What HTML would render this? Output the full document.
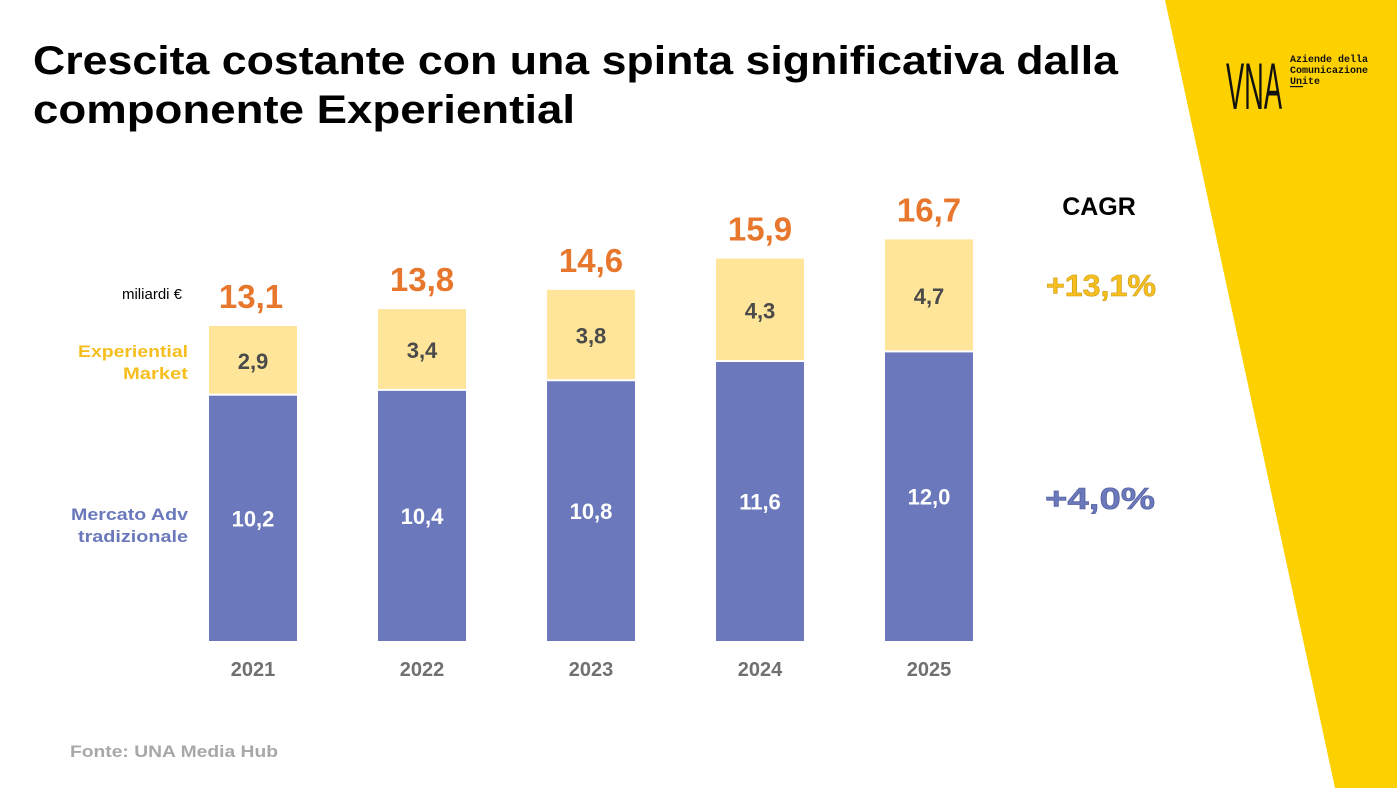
<!DOCTYPE html>
<html><head><meta charset="utf-8"><style>
html,body{margin:0;padding:0;background:#fff}
svg{display:block;font-family:"Liberation Sans",sans-serif}
</style></head><body>
<svg id="c" width="1397" height="788" viewBox="0 0 1397 788">
<polygon points="1165,0 1397,0 1397,788 1335,788" fill="#FDD000"/>
<g>
<text x="1226" y="109" font-size="66" font-family="Liberation Sans Narrow, Liberation Sans, sans-serif" fill="#111" textLength="56" lengthAdjust="spacingAndGlyphs">VNA</text>
<text x="1290" y="62" font-size="10" font-weight="bold" font-family="Liberation Mono, monospace" fill="#111">Aziende della</text>
<text x="1290" y="73" font-size="10" font-weight="bold" font-family="Liberation Mono, monospace" fill="#111">Comunicazione</text>
<text x="1290" y="84" font-size="10" font-weight="bold" font-family="Liberation Mono, monospace" fill="#111">Unite</text>
<rect x="1290" y="86" width="13" height="1.2" fill="#111"/>
</g>
<text x="33" y="74" font-size="40" font-weight="bold" fill="#000" textLength="1085" lengthAdjust="spacingAndGlyphs">Crescita costante con una spinta significativa dalla</text>
<text x="33" y="123" font-size="40" font-weight="bold" fill="#000" textLength="542" lengthAdjust="spacingAndGlyphs">componente Experiential</text>
<text x="182" y="299" font-size="15" text-anchor="end" fill="#000">miliardi €</text>
<text x="188" y="357" font-size="17" font-weight="bold" text-anchor="end" fill="#F6BE1E" textLength="110" lengthAdjust="spacingAndGlyphs">Experiential</text>
<text x="188" y="379" font-size="17" font-weight="bold" text-anchor="end" fill="#F6BE1E" textLength="65" lengthAdjust="spacingAndGlyphs">Market</text>
<text x="188" y="520" font-size="17" font-weight="bold" text-anchor="end" fill="#6B79BC" textLength="117" lengthAdjust="spacingAndGlyphs">Mercato Adv</text>
<text x="188" y="542" font-size="17" font-weight="bold" text-anchor="end" fill="#6B79BC" textLength="110" lengthAdjust="spacingAndGlyphs">tradizionale</text>
<text x="1099" y="215" font-size="25" font-weight="bold" text-anchor="middle" fill="#000">CAGR</text>
<text x="1101" y="296" font-size="31" font-weight="bold" text-anchor="middle" fill="#F6BE1E" stroke="#c99a10" stroke-width="0.6" textLength="110" lengthAdjust="spacingAndGlyphs">+13,1%</text>
<text x="1100" y="509" font-size="31" font-weight="bold" text-anchor="middle" fill="#6B79BC" stroke="#4d5a9a" stroke-width="0.6" textLength="110" lengthAdjust="spacingAndGlyphs">+4,0%</text>
<text x="70" y="757" font-size="17" font-weight="bold" fill="#A8A8A8" textLength="208" lengthAdjust="spacingAndGlyphs">Fonte: UNA Media Hub</text>
<g id="bars"></g>
</svg>
<script>
const years = ["2021","2022","2023","2024","2025"];
const advValues = [10.2,10.4,10.8,11.6,12.0];
const expValues = [2.9,3.4,3.8,4.3,4.7];
const totals = [13.1,13.8,14.6,15.9,16.7];
const NS="http://www.w3.org/2000/svg";
const base=641, k=24.05, x0=209, step=169, bw=88;
const y=v=>base-v*k;
const xs=i=>x0+i*step;
const fmt=v=>v.toFixed(1).replace(".",",");
const g=document.getElementById("bars");
function mk(tag,attrs){const e=document.createElementNS(NS,tag);for(const a in attrs)e.setAttribute(a,attrs[a]);g.appendChild(e);return e;}
years.forEach((yr,i)=>{
  const x=xs(i), a=advValues[i], e=expValues[i];
  const r1=mk("rect",{x:x,y:y(a),width:bw,height:a*k,fill:"#6B79BC"});
  
  
  const r2=mk("rect",{x:x,y:y(a+e),width:bw,height:e*k-2,fill:"#FFE599"});
  
  
  const t1=mk("text",{x:x+bw/2,y:(y(a)+base)/2+8,"font-size":22,"font-weight":"bold","text-anchor":"middle",fill:"#fff"});
  t1.textContent=fmt(a);
  
  
  const t2=mk("text",{x:x+bw/2,y:(y(a)+y(a+e))/2+8,"font-size":22,"font-weight":"bold","text-anchor":"middle",fill:"#4a4a4a"});
  t2.textContent=fmt(e);
  
  
  const t3=mk("text",{x:x+bw/2+(i===0?-2:0),y:y(totals[i])-18,"font-size":33,"font-weight":"bold","text-anchor":"middle",fill:"#E8772E"});
  t3.textContent=fmt(totals[i]);
  
  
  const t4=mk("text",{x:x+bw/2,y:676,"font-size":20,"font-weight":"bold","text-anchor":"middle",fill:"#707070"});
  t4.textContent=yr;
  
  
});
</script>
</body></html>
